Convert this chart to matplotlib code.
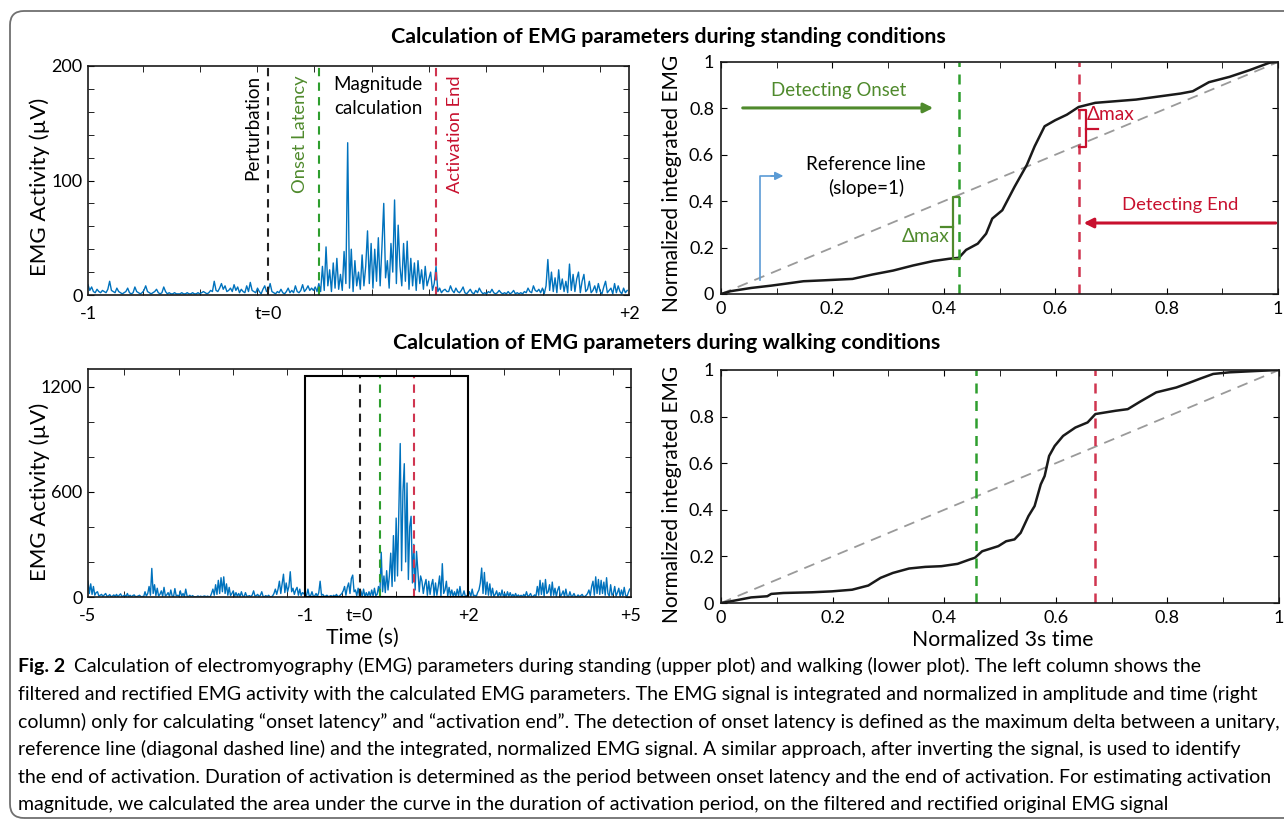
import numpy as np
import matplotlib
matplotlib.use("Agg")
import matplotlib.pyplot as plt
from matplotlib.patches import FancyBboxPatch, Rectangle
from matplotlib.transforms import IdentityTransform
from matplotlib.ticker import FixedLocator, FixedFormatter

plt.rcParams['font.family'] = ['Lato', 'DejaVu Sans']

# ---------------- data ----------------
# standing: rectified EMG (uV), sampled every 0.01 s from t = -1 s
stand_t0, stand_dt = -1.0, 0.01
stand_emg = [
    9, 4, 7, 3, 2, 5, 3, 2, 4, 3,
    2, 5, 12, 4, 3, 2, 6, 3, 2, 1,
    2, 3, 6, 2, 1, 2, 7, 3, 2, 1,
    2, 4, 8, 3, 2, 1, 2, 3, 5, 2,
    1, 2, 7, 3, 1, 2, 1, 1, 2, 1,
    1, 1, 2, 1, 1, 2, 1, 1, 2, 1,
    1, 2, 1, 2, 3, 2, 1, 2, 4, 3,
    12, 4, 3, 6, 10, 5, 8, 3, 4, 6,
    3, 9, 4, 7, 2, 5, 3, 2, 8, 3,
    11, 4, 3, 2, 6, 3, 1, 5, 8, 3,
    4, 10, 3, 2, 1, 3, 2, 5, 2, 1,
    3, 6, 2, 4, 2, 8, 3, 2, 4, 9,
    3, 5, 8, 4, 6, 4, 7, 3, 10, 3,
    25, 4, 42, 8, 22, 3, 28, 6, 32, 5,
    18, 4, 38, 10, 133, 6, 40, 3, 30, 8,
    20, 5, 35, 8, 25, 56, 10, 45, 6, 40,
    12, 50, 8, 42, 80, 15, 30, 6, 45, 20,
    83, 10, 61, 25, 8, 45, 12, 47, 5, 32,
    8, 28, 4, 30, 10, 22, 5, 25, 8, 14,
    20, 4, 10, 25, 3, 6, 2, 4, 5, 3,
    3, 8, 4, 2, 6, 3, 2, 4, 7, 2,
    1, 3, 5, 2, 1, 4, 2, 6, 3, 1,
    2, 1, 3, 2, 5, 2, 1, 2, 4, 2,
    1, 2, 1, 3, 1, 2, 4, 1, 2, 1,
    2, 1, 3, 2, 6, 3, 2, 8, 4, 3,
    5, 2, 6, 1, 8, 31, 4, 20, 3, 15,
    2, 22, 5, 14, 3, 12, 2, 27, 4, 18,
    3, 14, 20, 2, 12, 18, 3, 5, 12, 2,
    4, 8, 2, 10, 3, 1, 7, 12, 2, 4,
    6, 1, 10, 2, 8, 3, 1, 6, 2, 4,
]
# walking: rectified EMG (uV), sampled every 0.025 s from t = -5 s
walk_t0, walk_dt = -5.0, 0.025
walk_emg = [
    90, 20, 75, 15, 60, 10, 25, 30, 5, 10,
    15, 3, 12, 20, 4, 6, 14, 2, 5, 12,
    3, 15, 2, 10, 18, 3, 5, 12, 2, 20,
    2, 10, 1, 8, 12, 2, 3, 6, 10, 1,
    3, 2, 30, 5, 20, 60, 10, 163, 20, 70,
    8, 50, 5, 15, 35, 4, 55, 6, 12, 25,
    3, 40, 5, 2, 48, 6, 10, 2, 35, 4,
    20, 2, 45, 5, 2, 10, 1, 8, 2, 1,
    2, 6, 1, 5, 1, 4, 6, 1, 5, 2,
    1, 20, 45, 10, 70, 15, 95, 20, 110, 30,
    115, 20, 75, 10, 55, 8, 20, 35, 3, 25,
    4, 20, 2, 30, 5, 2, 25, 3, 5, 8,
    1, 12, 35, 5, 8, 15, 2, 10, 30, 3,
    2, 8, 1, 10, 2, 1, 6, 20, 45, 15,
    45, 90, 20, 75, 130, 25, 80, 30, 60, 144,
    30, 50, 15, 40, 55, 10, 45, 8, 25, 20,
    5, 10, 45, 5, 8, 30, 3, 6, 20, 3,
    25, 90, 10, 15, 3, 5, 10, 2, 4, 8,
    1, 10, 2, 15, 3, 4, 12, 20, 35, 60,
    10, 55, 80, 20, 105, 125, 30, 40, 8, 50,
    5, 35, 3, 45, 2, 25, 3, 30, 4, 40,
    5, 50, 8, 15, 60, 10, 255, 30, 120, 25,
    150, 40, 120, 250, 60, 350, 90, 450, 120, 500,
    875, 150, 600, 760, 200, 650, 100, 400, 460, 80,
    300, 40, 260, 150, 30, 120, 90, 20, 70, 100,
    10, 90, 15, 70, 100, 8, 80, 10, 60, 120,
    5, 190, 20, 40, 90, 5, 55, 8, 40, 3,
    30, 2, 45, 5, 60, 3, 10, 35, 2, 8,
    12, 30, 2, 45, 5, 10, 2, 25, 40, 80,
    165, 20, 140, 15, 85, 10, 75, 5, 50, 3,
    15, 35, 2, 25, 3, 40, 2, 20, 1, 30,
    2, 25, 1, 15, 2, 20, 1, 12, 2, 10,
    1, 15, 2, 30, 3, 8, 20, 1, 4, 12,
    5, 60, 10, 95, 15, 80, 5, 100, 20, 30,
    70, 5, 85, 10, 50, 3, 40, 60, 2, 15,
    35, 2, 45, 5, 2, 30, 3, 6, 20, 2,
    1, 12, 2, 8, 15, 2, 3, 10, 20, 40,
    8, 60, 90, 10, 115, 20, 100, 15, 95, 20,
    85, 10, 110, 20, 5, 70, 10, 20, 60, 5,
    25, 50, 3, 40, 5, 55, 10, 2, 25, 45,
]
# event times (s)
stand_perturb, stand_onset, stand_end = 0.0, 0.28, 0.93
walk_perturb, walk_onset, walk_end = 0.0, 0.37, 1.01
# analysis window (s) and box height (uV) in walking plot
win_start, win_end = -1.0, 2.0
walk_box_top = 1260

# normalized integrated EMG curves
stand_norm_time = [0, 0.017, 0.054, 0.09, 0.127, 0.148, 0.185, 0.236, 0.272, 0.309,
                   0.345, 0.381, 0.41, 0.427, 0.44, 0.461, 0.476, 0.487, 0.505, 0.527,
                   0.549, 0.563, 0.581, 0.6, 0.621, 0.642, 0.672, 0.745, 0.825, 0.847,
                   0.876, 0.913, 0.949, 0.985, 1.0]
stand_norm_iemg = [0, 0.012, 0.026, 0.036, 0.048, 0.055, 0.059, 0.065, 0.084, 0.101,
                   0.123, 0.142, 0.152, 0.156, 0.19, 0.217, 0.26, 0.325, 0.361, 0.462,
                   0.556, 0.636, 0.723, 0.749, 0.773, 0.806, 0.824, 0.838, 0.864, 0.874,
                   0.913, 0.936, 0.965, 0.997, 1.0]
walk_norm_time = [0, 0.017, 0.054, 0.083, 0.09, 0.112, 0.163, 0.199, 0.235, 0.264,
                  0.286, 0.308, 0.337, 0.366, 0.395, 0.424, 0.446, 0.455, 0.468, 0.497,
                  0.511, 0.526, 0.537, 0.551, 0.562, 0.573, 0.58, 0.588, 0.598, 0.613,
                  0.635, 0.657, 0.671, 0.707, 0.729, 0.751, 0.78, 0.816, 0.838, 0.86,
                  0.882, 0.911, 0.962, 1.0]
walk_norm_iemg = [0, 0.007, 0.024, 0.029, 0.039, 0.043, 0.046, 0.05, 0.057, 0.075,
                  0.108, 0.129, 0.148, 0.155, 0.158, 0.168, 0.187, 0.194, 0.222, 0.244,
                  0.265, 0.273, 0.301, 0.373, 0.416, 0.509, 0.545, 0.631, 0.674, 0.717,
                  0.753, 0.775, 0.811, 0.825, 0.832, 0.864, 0.904, 0.925, 0.944, 0.964,
                  0.983, 0.99, 0.996, 1.0]

stand_xticks = [-1, 0, 2]
stand_xticklabels = ['-1', 't=0', '+2']
walk_xticks = [-5, -1, 0, 2, 5]
walk_xticklabels = ['-5', '-1', 't=0', '+2', '+5']
norm_ticks = [0, 0.2, 0.4, 0.6, 0.8, 1.0]
norm_ticklabels = ['0', '0.2', '0.4', '0.6', '0.8', '1']

caption_lines = [
    "Calculation of electromyography (EMG) parameters during standing (upper plot) and walking (lower plot). The left column shows the",
    "filtered and rectified EMG activity with the calculated EMG parameters. The EMG signal is integrated and normalized in amplitude and time (right",
    "column) only for calculating \u201conset latency\u201d and \u201cactivation end\u201d. The detection of onset latency is defined as the maximum delta between a unitary,",
    "reference line (diagonal dashed line) and the integrated, normalized EMG signal. A similar approach, after inverting the signal, is used to identify",
    "the end of activation. Duration of activation is determined as the period between onset latency and the end of activation. For estimating activation",
    "magnitude, we calculated the area under the curve in the duration of activation period, on the filtered and rectified original EMG signal",
]

# ---------------- style ----------------
BLUE = '#0072BD'
LIGHTBLUE = '#5b9bd5'
GREEN_TXT = '#4f8a2c'
RED_TXT = '#c8102e'
GREEN_DASH = '#2e9e2e'
RED_DASH = '#d03550'
DASH = (0, (4, 3))
TICK_FS = 13

W, H = 1284, 826
fig = plt.figure(figsize=(W / 100, H / 100), dpi=100)
fig.patch.set_facecolor('white')
renderer = fig.canvas.get_renderer()


def px_axes(l, t, r, b):
    return fig.add_axes([l / W, 1 - b / H, (r - l) / W, (b - t) / H])


def ftext(x, y, s, **kw):
    return fig.text(x / W, 1 - y / H, s, **kw)


def fit(artist, target, vertical=False):
    bb = artist.get_window_extent(renderer)
    cur = bb.height if vertical else bb.width
    artist.set_fontsize(artist.get_fontsize() * target / cur)
    return artist.get_fontsize()


def style_spines(ax):
    for s in ax.spines.values():
        s.set_linewidth(1.2)
        s.set_color('#1a1a1a')


# ---------- top-left: standing EMG ----------
ax1 = px_axes(88, 66, 629, 295)
t_s = stand_t0 + stand_dt * np.arange(len(stand_emg))
ax1.plot(t_s, stand_emg, color=BLUE, lw=1.0)
ax1.set_xlim(-1, 2)
ax1.set_ylim(0, 200)
ax1.axvline(stand_perturb, color='#222222', ls=DASH, lw=1.5)
ax1.axvline(stand_onset, color=GREEN_DASH, ls=DASH, lw=1.5)
ax1.axvline(stand_end, color=RED_DASH, ls=DASH, lw=1.5)
ax1.xaxis.set_major_locator(FixedLocator(stand_xticks))
ax1.xaxis.set_major_formatter(FixedFormatter(stand_xticklabels))
ax1.xaxis.set_minor_locator(FixedLocator([-0.694 + 0.3166 * k for k in range(9)]))
ax1.yaxis.set_major_locator(FixedLocator([0, 100, 200]))
ax1.yaxis.set_minor_locator(FixedLocator([20, 40, 60, 80, 120, 140, 160, 180]))
ax1.tick_params(axis='x', which='major', length=0, pad=8, labelsize=TICK_FS)
ax1.tick_params(axis='x', which='minor', direction='in', length=4, top=True, bottom=True)
ax1.tick_params(axis='y', which='both', direction='in', length=4, left=True, right=True,
                labelsize=TICK_FS, pad=4)
style_spines(ax1)
t_pert = ax1.text(-0.085, 192, 'Perturbation', rotation=90, ha='center', va='top', color='black', fontsize=14)
t_ons = ax1.text(0.178, 192, 'Onset Latency', rotation=90, ha='center', va='top', color=GREEN_TXT, fontsize=14)
t_end = ax1.text(1.036, 192, 'Activation End', rotation=90, ha='center', va='top', color=RED_TXT, fontsize=14)
t_mag1 = ax1.text(0.608, 183.5, 'Magnitude', ha='center', va='center', fontsize=14)
t_mag2 = ax1.text(0.608, 162.5, 'calculation', ha='center', va='center', fontsize=14)

# ---------- top-right: standing integrated ----------
ax2 = px_axes(721, 62, 1278, 294)
ax2.plot([0, 1], [0, 1], color='#9a9a9a', ls=(0, (6, 4)), lw=1.3)
ax2.plot(stand_norm_time, stand_norm_iemg, color='#1a1a1a', lw=1.8)
ax2.axvline((stand_onset - win_start) / (win_end - win_start), color=GREEN_DASH, ls=DASH, lw=1.8)
ax2.axvline((stand_end - win_start) / (win_end - win_start), color=RED_DASH, ls=DASH, lw=1.8)

# ---------- bottom-left: walking EMG ----------
ax3 = px_axes(88, 369, 631, 597)
t_w = walk_t0 + walk_dt * np.arange(len(walk_emg))
ax3.plot(t_w, walk_emg, color=BLUE, lw=1.0)
ax3.set_xlim(-5, 5)
ax3.set_ylim(0, 1300)
ax3.add_patch(Rectangle((win_start, 0), win_end - win_start, walk_box_top, fill=False,
                        ec='black', lw=1.5, zorder=3))
ax3.vlines([walk_perturb], 0, walk_box_top, color='#222222', ls=DASH, lw=1.5)
ax3.vlines([walk_onset], 0, walk_box_top, color=GREEN_DASH, ls=DASH, lw=1.5)
ax3.vlines([walk_end], 0, walk_box_top, color=RED_DASH, ls=DASH, lw=1.5)
ax3.xaxis.set_major_locator(FixedLocator(walk_xticks))
ax3.xaxis.set_major_formatter(FixedFormatter(walk_xticklabels))
ax3.xaxis.set_minor_locator(FixedLocator([-4.33 + k for k in range(10)]))
ax3.yaxis.set_major_locator(FixedLocator([0, 600, 1200]))
ax3.yaxis.set_minor_locator(FixedLocator([200, 400, 800, 1000]))
ax3.tick_params(axis='x', which='major', length=0, pad=8, labelsize=TICK_FS)
ax3.tick_params(axis='x', which='minor', direction='in', length=4, top=True, bottom=True)
ax3.tick_params(axis='y', which='both', direction='in', length=4, left=True, right=True,
                labelsize=TICK_FS, pad=4)
style_spines(ax3)

# ---------- bottom-right: walking integrated ----------
ax4 = px_axes(721, 370, 1279, 603)
ax4.plot([0, 1], [0, 1], color='#9a9a9a', ls=(0, (6, 4)), lw=1.3)
ax4.plot(walk_norm_time, walk_norm_iemg, color='#1a1a1a', lw=1.8)
ax4.axvline((walk_onset - win_start) / (win_end - win_start), color=GREEN_DASH, ls=DASH, lw=1.8)
ax4.axvline((walk_end - win_start) / (win_end - win_start), color=RED_DASH, ls=DASH, lw=1.8)

for ax in (ax2, ax4):
    ax.set_xlim(0, 1)
    ax.set_ylim(0, 1)
    ax.xaxis.set_major_locator(FixedLocator(norm_ticks))
    ax.xaxis.set_major_formatter(FixedFormatter(norm_ticklabels))
    ax.xaxis.set_minor_locator(FixedLocator([0.1, 0.3, 0.5, 0.7, 0.9]))
    ax.yaxis.set_major_locator(FixedLocator(norm_ticks))
    ax.yaxis.set_major_formatter(FixedFormatter(norm_ticklabels))
    ax.tick_params(which='both', direction='in', length=4, top=True, right=True,
                   labelsize=TICK_FS, pad=5)
    style_spines(ax)

# annotations on top-right
t_don = ax2.text(0.212, 0.877, 'Detecting Onset', ha='center', va='center', color=GREEN_TXT, fontsize=14)
ax2.annotate('', xy=(0.381, 0.802), xytext=(0.039, 0.802),
             arrowprops=dict(arrowstyle='-|>', color=GREEN_TXT, lw=2.2, mutation_scale=14,
                             shrinkA=0, shrinkB=0))
t_ref1 = ax2.text(0.26, 0.56, 'Reference line', ha='center', va='center', fontsize=14)
t_ref2 = ax2.text(0.26, 0.455, '(slope=1)', ha='center', va='center', fontsize=14)
ax2.plot([0.07, 0.07, 0.095], [0.061, 0.509, 0.509], color=LIGHTBLUE, lw=1.2)
ax2.annotate('', xy=(0.112, 0.509), xytext=(0.09, 0.509),
             arrowprops=dict(arrowstyle='-|>', color=LIGHTBLUE, lw=1.2, mutation_scale=12,
                             shrinkA=0, shrinkB=0))
# green delta max bracket
ax2.plot([0.427, 0.416, 0.416, 0.427], [0.419, 0.419, 0.152, 0.152], color=GREEN_TXT, lw=1.6)
ax2.plot([0.395, 0.416], [0.289, 0.289], color=GREEN_TXT, lw=1.6)
t_dm1 = ax2.text(0.367, 0.246, '\u0394max', ha='center', va='center', color=GREEN_TXT, fontsize=14)
# red delta max bracket
ax2.plot([0.642, 0.656, 0.656, 0.642], [0.795, 0.795, 0.632, 0.632], color=RED_TXT, lw=1.6)
ax2.plot([0.656, 0.676], [0.712, 0.712], color=RED_TXT, lw=1.6)
t_dm2 = ax2.text(0.70, 0.773, '\u0394max', ha='center', va='center', color=RED_TXT, fontsize=14)
t_den = ax2.text(0.824, 0.383, 'Detecting End', ha='center', va='center', color=RED_TXT, fontsize=14)
ax2.annotate('', xy=(0.651, 0.306), xytext=(0.996, 0.306),
             arrowprops=dict(arrowstyle='-|>', color=RED_TXT, lw=2.2, mutation_scale=14,
                             shrinkA=0, shrinkB=0))

# ---------- axis labels & titles ----------
yl1 = ftext(40, 187, 'EMG Activity (\u00b5V)', rotation=90, ha='center', va='center', fontsize=15)
yl3 = ftext(40, 492, 'EMG Activity (\u00b5V)', rotation=90, ha='center', va='center', fontsize=15)
yl2 = ftext(672, 183, 'Normalized integrated EMG', rotation=90, ha='center', va='center', fontsize=15)
yl4 = ftext(672, 494, 'Normalized integrated EMG', rotation=90, ha='center', va='center', fontsize=15)
xl3 = ftext(362, 638, 'Time (s)', ha='center', va='center', fontsize=15)
xl4 = ftext(1003, 640, 'Normalized 3s time', ha='center', va='center', fontsize=15)
tt1 = ftext(668, 43, 'Calculation of EMG parameters during standing conditions',
            ha='center', va='baseline', fontsize=15, fontweight='bold')
tt2 = ftext(667, 349, 'Calculation of EMG parameters during walking conditions',
            ha='center', va='baseline', fontsize=15, fontweight='bold')

fs = fit(yl1, 178, vertical=True)
yl3.set_fontsize(fs)
fs = fit(yl2, 258, vertical=True)
yl4.set_fontsize(fs)
fs = fit(xl4, 181)
xl3.set_fontsize(fs)
fs = fit(tt1, 556)
tt2.set_fontsize(fs)
fit(t_pert, 105, vertical=True)
fit(t_ons, 117, vertical=True)
fit(t_end, 118, vertical=True)
fs = fit(t_mag2, 89)
t_mag1.set_fontsize(fs)
fit(t_don, 135)
fit(t_den, 116)
fs = fit(t_ref1, 119)
t_ref2.set_fontsize(fs)
fs = fit(t_dm1, 48)
t_dm2.set_fontsize(fs)

# ---------- caption ----------
cap_base = [672, 700, 728, 755, 783, 810]
probe = ftext(18, cap_base[2], caption_lines[2], ha='left', va='baseline', fontsize=12)
cap_fs = fit(probe, 1258)
probe.remove()
fig_lbl = ftext(18, cap_base[0], 'Fig. 2', ha='left', va='baseline', fontsize=cap_fs, fontweight='bold')
lbl_w = fig_lbl.get_window_extent(renderer).width
ftext(18 + lbl_w + 9, cap_base[0], caption_lines[0], ha='left', va='baseline', fontsize=cap_fs)
for i in range(1, 6):
    ftext(18, cap_base[i], caption_lines[i], ha='left', va='baseline', fontsize=cap_fs)

# ---------- frame ----------
frame = FancyBboxPatch((10, H - 818), 1330, 807, boxstyle='round,pad=0,rounding_size=14',
                       transform=IdentityTransform(), fill=False, ec='#707070', lw=1.3)
fig.add_artist(frame)

fig.savefig('out.png', dpi=100, facecolor='white')
